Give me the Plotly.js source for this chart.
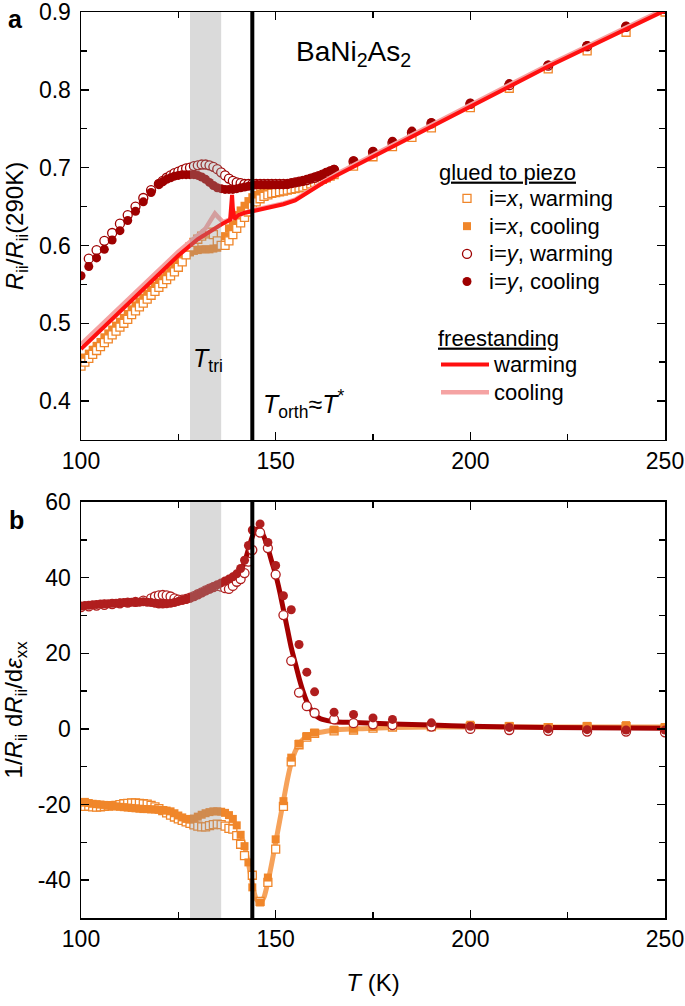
<!DOCTYPE html>
<html>
<head>
<meta charset="utf-8">
<script src="https://cdn.plot.ly/plotly-3.0.1.min.js"></script>
<style>html,body{margin:0;padding:0;background:#fff;}#chart{width:685px;height:1006px;}</style>
</head>
<body>
<div id="chart"></div>
<script>
// ---------- Panel a : R_ii / R_ii(290K) ----------
const Ta_x = [100,101,102,103,104,105,106,107,108,109,110,111,112,113,114,115,116,117,118,119,
  120,121,122,123,124,125,126,127,128,129,130,131,132,133,134,135,136,137,138,139,
  140,141,142,143,144,145,146,147,148,149,150,151,152,153,154,155,156,157,158,159,
  160,161,162,163,164,165,170,175,180,185,190,200,210,220,230,240,250];
// i=x, cooling (filled squares)
const Ra_xc = [0.451,0.456,0.461,0.466,0.471,0.476,0.482,0.487,0.492,0.497,0.502,0.507,0.512,0.518,0.523,0.528,0.533,0.538,0.543,0.548,
  0.553,0.558,0.563,0.568,0.573,0.578,0.583,0.588,0.591,0.593,0.594,0.595,0.595,0.595,0.596,0.597,0.600,0.612,0.622,0.631,
  0.639,0.645,0.651,0.657,0.662,0.665,0.667,0.668,0.669,0.670,0.671,0.672,0.673,0.674,0.675,0.676,0.677,0.678,0.680,0.682,
  0.684,0.686,0.688,0.690,0.692,0.694,0.705,0.717,0.730,0.742,0.754,0.778,0.803,0.827,0.851,0.876,0.900];
// i=x, warming (open squares)
const Ra_xw = [0.445,0.450,0.455,0.460,0.465,0.470,0.475,0.480,0.485,0.490,0.495,0.500,0.505,0.511,0.516,0.521,0.526,0.531,0.536,0.541,
  0.546,0.551,0.556,0.561,0.566,0.572,0.579,0.588,0.598,0.604,0.608,0.612,0.615,0.617,0.614,0.606,0.600,0.600,0.606,0.614,
  0.622,0.629,0.636,0.643,0.650,0.656,0.660,0.663,0.665,0.667,0.668,0.669,0.670,0.671,0.672,0.673,0.674,0.675,0.677,0.679,
  0.681,0.683,0.685,0.687,0.689,0.691,0.702,0.714,0.727,0.739,0.751,0.777,0.802,0.827,0.850,0.874,0.900];
// i=y, cooling (filled circles)
const Ta_yc = [100,102,104,106,108,110,112,114,116,118,
  120,121,122,123,124,125,126,127,128,129,130,131,132,133,134,135,136,137,138,139,
  140,141,142,143,144,145,146,147,148,149,150,151,152,153,154,155,156,157,158,159,
  160,161,162,163,164,165,170,175,180,185,190,200,210,220,230,240,250];
const Ra_yc = [0.561,0.573,0.584,0.595,0.607,0.619,0.632,0.644,0.656,0.668,
  0.679,0.682,0.685,0.687,0.689,0.690,0.691,0.691,0.691,0.691,0.690,0.688,0.685,0.681,0.677,0.674,0.673,0.672,0.672,0.672,
  0.673,0.674,0.675,0.676,0.677,0.678,0.678,0.678,0.678,0.678,0.678,0.678,0.678,0.679,0.680,0.681,0.682,0.683,0.685,0.686,
  0.688,0.689,0.691,0.694,0.696,0.698,0.709,0.721,0.734,0.747,0.758,0.783,0.808,0.832,0.857,0.882,0.905];
// i=y, warming (open circles)
const Ta_yw = [102,104,106,108,110,112,114,116,118,
  120,121,122,123,124,125,126,127,128,129,130,131,132,133,134,135,136,137,138,139,
  140,141,142,143,144,145,146,147,148,149,150,151,152,153,154,155,156,157,158,159,
  160,161,162,163,164,165,170,175,180,185,190,200,210,220,230,240,250];
const Ra_yw = [0.583,0.594,0.606,0.616,0.628,0.639,0.650,0.661,0.671,
  0.679,0.683,0.687,0.690,0.693,0.695,0.697,0.699,0.700,0.702,0.703,0.704,0.704,0.703,0.701,0.698,0.694,0.690,0.686,0.683,
  0.681,0.680,0.679,0.679,0.679,0.679,0.679,0.679,0.679,0.679,0.679,0.679,0.679,0.679,0.680,0.681,0.682,0.683,0.684,0.686,
  0.687,0.689,0.691,0.693,0.695,0.697,0.708,0.720,0.732,0.745,0.757,0.782,0.806,0.831,0.856,0.881,0.904];
// freestanding, warming (red line)
const Ta_fw = [100,105,110,115,120,125,130,133,136,138.3,138.6,138.8,139.0,139.4,140.4,142,144,148,152,155,158,162,166.5,180,200,220,250];
const Ra_fw = [0.467,0.491,0.515,0.539,0.563,0.587,0.608,0.618,0.627,0.633,0.650,0.665,0.648,0.634,0.639,0.642,0.644,0.648,0.653,0.658,0.668,0.680,0.692,0.727,0.779,0.830,0.902];
// freestanding, cooling (pink line)
const Ta_fc = [100,105,110,115,120,125,130,132,133.5,134.4,135.3,136.5,138,141,144,148,152,155,158,162,166.5,180,200,220,250];
const Ra_fc = [0.473,0.497,0.521,0.545,0.569,0.592,0.613,0.622,0.634,0.641,0.636,0.630,0.633,0.640,0.645,0.649,0.654,0.659,0.669,0.681,0.694,0.729,0.781,0.832,0.904];

// ---------- Panel b : 1/R dR/d eps ----------
const Tb_c = [100,101,102,103,104,105,106,107,108,109,110,111,112,113,114,115,116,117,118,119,
  120,121,122,123,124,125,126,127,128,129,130,131,132,133,134,135,136,137,138,139,
  140,141,142,143,144,146,148,150,152,154,156,158,160,165,170,175,180,190,200,210,220,230,240,250];
const Vb_yc = [32.5,32.6,32.7,32.8,32.9,33.0,33.1,33.1,33.2,33.2,33.3,33.4,33.4,33.5,33.5,33.5,33.6,33.5,33.4,33.2,
  33.0,33.0,33.1,33.2,33.4,33.7,34.0,34.3,34.6,35.0,35.5,36.0,36.5,37.0,37.6,38.1,38.6,39.1,39.6,40.2,
  41.0,42.4,44.6,48.5,52.6,54.2,49.3,43.2,35.2,31.5,22.3,15.0,9.8,4.4,3.8,2.9,2.5,1.6,0.7,0.4,0.0,-0.2,-0.3,-0.3];
const Vb_xc = [-19.5,-19.3,-19.6,-19.8,-19.9,-20.0,-20.1,-20.3,-20.4,-20.5,-20.6,-20.7,-20.8,-20.9,-21.0,-21.1,-21.2,-21.2,-21.3,-21.3,
  -21.4,-21.5,-21.6,-21.8,-22.3,-22.9,-23.4,-23.8,-24.0,-23.7,-23.2,-22.7,-22.3,-22.0,-21.8,-21.8,-21.9,-22.2,-22.8,-23.8,
  -25.5,-28.0,-31.0,-35.3,-41.9,-45.9,-39.3,-29.2,-19.1,-7.6,-3.9,-1.9,-1.0,-0.2,0.0,0.5,1.1,0.9,1.1,0.8,0.5,0.8,1.0,0.5];
const Tb_yw = [100,102,104,106,108,110,112,114,116,118,
  119,120,121,122,123,124,125,126,127,128,129,130,131,132,133,134,135,136,137,138,139,140,141,142,143,144,
  146,148,150,152,154,156,158,160,165,170,175,180,190,200,210,220,230,240,250];
const Vb_yw = [32.2,32.4,32.6,32.8,33.0,33.2,33.4,33.6,33.9,34.5,
  35.0,35.3,35.4,35.3,35.0,34.5,34.2,34.2,34.4,34.7,35.1,35.6,36.1,36.6,37.1,37.5,37.8,37.6,37.2,37.0,37.8,38.9,39.6,41.2,44.2,47.3,
  51.9,47.8,40.8,30.1,18.0,9.6,6.0,4.2,2.5,1.5,1.2,1.0,0.6,0.0,-0.3,-0.5,-0.7,-0.7,-0.9];
const Tb_xw = [100,101,102,103,104,105,106,107,108,109,110,111,112,113,114,115,116,117,118,119,
  120,121,122,123,124,125,126,127,128,129,130,131,132,133,134,135,136,137,138,139,140,141,142,
  144,146,148,150,152,154,156,158,160,165,170,175,180,190,200,210,220,230,240,250];
const Vb_xw = [-20.3,-20.5,-20.4,-20.6,-20.7,-20.6,-20.5,-20.4,-20.3,-20.2,-20.0,-19.8,-19.7,-19.6,-19.6,-19.7,-19.8,-19.9,-20.2,-20.6,
  -21.1,-21.6,-22.2,-22.8,-23.3,-23.8,-24.2,-24.6,-25.0,-25.4,-25.7,-25.9,-25.9,-25.6,-25.3,-25.2,-25.3,-25.7,-26.3,-26.5,-28.2,-30.5,-33.5,
  -38.7,-45.6,-40.6,-31.8,-20.5,-8.7,-4.2,-2.2,-1.2,-0.5,-0.3,0.2,0.5,0.6,0.6,0.5,0.3,0.5,0.6,0.2];
// guide lines
const Tb_yline = [140,141,142,143,144,145,146,147,148,149,150,151,152,153,154,155,156,157,158,159,160,161,162,165,170,180,190,200,220,250];
const Vb_yline = [40.8,42.0,44.0,47.5,50.8,52.8,52.8,50.8,47.8,44.2,40.8,36.5,31.5,26.5,21.5,17.5,13.5,10.0,7.2,5.2,3.8,3.0,2.5,1.9,1.7,1.3,1.0,0.7,0.4,0.2];
const Tb_xline = [141,142,143,144,145,146,147,148,149,150,151,152,153,154,155,156,157,158,160,163,166,170,180,200,250];
const Vb_xline = [-28.0,-31.0,-35.5,-41.0,-45.0,-46.0,-44.5,-40.5,-35.5,-30.0,-24.5,-19.0,-13.5,-9.0,-6.0,-4.0,-2.8,-2.0,-1.2,-0.6,-0.2,0.0,0.4,0.5,0.5];

// tick labels
const xTicks = [100,150,200,250];
const yaTicks = [0.4,0.5,0.6,0.7,0.8,0.9];
const yaTickText = ['0.4','0.5','0.6','0.7','0.8','0.9'];
const ybTicks = [-40,-20,0,20,40,60];
const ybTickText = ['-40','-20','0','20','40','60'];
const T_tri = [128,136];
const T_orth = 144;

// ---------- styles ----------
const FONT = 'Liberation Sans, Arial, sans-serif';
const ORANGE = '#f0862a', ORANGE_L = '#f6a25a';
const DRED_A = '#9e0000', DRED_B = '#b01e1e', DRED_L = '#a40000';
const RED = '#ff1010', PINK = '#f5a3a3';
const lg = s => '<span style="font-size:22px">' + s + '</span>';

const traces = [
  // panel a
  {x: Ta_x, y: Ra_xc, xaxis:'x', yaxis:'y', mode:'markers', name: lg('i=<i>x</i>, cooling'), legend:'legend', legendrank:2,
   marker:{symbol:'square', size:8, color:ORANGE, line:{width:0}}},
  {x: Ta_x, y: Ra_xw, xaxis:'x', yaxis:'y', mode:'markers', name: lg('i=<i>x</i>, warming'), legend:'legend', legendrank:1,
   marker:{symbol:'square', size:8, color:'white', line:{color:ORANGE, width:1.3}}},
  {x: Ta_yw, y: Ra_yw, xaxis:'x', yaxis:'y', mode:'markers', name: lg('i=<i>y</i>, warming'), legend:'legend', legendrank:3,
   marker:{symbol:'circle', size:9, color:'white', line:{color:DRED_A, width:1.3}}},
  {x: Ta_yc, y: Ra_yc, xaxis:'x', yaxis:'y', mode:'markers', name: lg('i=<i>y</i>, cooling'), legend:'legend', legendrank:4,
   marker:{symbol:'circle', size:9, color:DRED_A, line:{width:0}}},
  {x: Ta_fc, y: Ra_fc, xaxis:'x', yaxis:'y', mode:'lines', name: lg('cooling'), legend:'legend2', legendrank:2,
   line:{color:PINK, width:4.5}},
  {x: Ta_fw, y: Ra_fw, xaxis:'x', yaxis:'y', mode:'lines', name: lg('warming'), legend:'legend2', legendrank:1,
   line:{color:RED, width:4}},
  // panel b
  {x: Tb_xline, y: Vb_xline, xaxis:'x2', yaxis:'y2', mode:'lines', showlegend:false, line:{color:ORANGE_L, width:5, shape:'spline', smoothing:0.6}},
  {x: Tb_yline, y: Vb_yline, xaxis:'x2', yaxis:'y2', mode:'lines', showlegend:false, line:{color:DRED_L, width:5, shape:'spline', smoothing:0.6}},
  {x: Tb_xw, y: Vb_xw, xaxis:'x2', yaxis:'y2', mode:'markers', showlegend:false,
   marker:{symbol:'square', size:8, color:'white', line:{color:ORANGE, width:1.3}}},
  {x: Tb_c, y: Vb_xc, xaxis:'x2', yaxis:'y2', mode:'markers', showlegend:false,
   marker:{symbol:'square', size:8, color:ORANGE, line:{width:0}}},
  {x: Tb_yw, y: Vb_yw, xaxis:'x2', yaxis:'y2', mode:'markers', showlegend:false,
   marker:{symbol:'circle', size:9, color:'white', line:{color:DRED_B, width:1.3}}},
  {x: Tb_c, y: Vb_yc, xaxis:'x2', yaxis:'y2', mode:'markers', showlegend:false,
   marker:{symbol:'circle', size:9, color:DRED_B, line:{width:0}}}
];

const axBase = {
  showline:true, linecolor:'black', linewidth:1.5, mirror:'ticks',
  ticks:'inside', ticklen:8, tickwidth:1.5, tickcolor:'black',
  showgrid:false, zeroline:false, ticklabeloverflow:'allow',
  tickfont:{family:FONT, size:23, color:'black'}
};
const minorX = {ticks:'inside', ticklen:6, tickwidth:1.5, tickcolor:'black', dtick:25, showgrid:false};

const shapes = [];
[['x','y'],['x2','y2']].forEach(([xr,yr]) => {
  shapes.push({type:'rect', xref:xr, yref:yr+' domain', x0:T_tri[0], x1:T_tri[1], y0:0, y1:1,
    fillcolor:'rgb(150,150,150)', opacity:0.35, line:{width:0}, layer:'above'});
  shapes.push({type:'line', xref:xr, yref:yr+' domain', x0:T_orth, x1:T_orth, y0:0, y1:1,
    line:{color:'black', width:4}, layer:'above'});
});

const px = v => (v - 81) / 584;
const py = v => (918 - v) / 906;
const annFont = {family:FONT, size:25, color:'black'};

const layout = {
  width:685, height:1006,
  margin:{l:81, r:20, t:12, b:88},
  paper_bgcolor:'white', plot_bgcolor:'white',
  font:{family:FONT, color:'black', size:23},
  showlegend:true,
  xaxis: Object.assign({}, axBase, {domain:[0,1], anchor:'y', range:[100,250], tickvals:xTicks, minor:minorX}),
  yaxis: Object.assign({}, axBase, {domain:[0.5276,1], anchor:'x', range:[0.35,0.9], tickmode:'array', tickvals:yaTicks, ticktext:yaTickText, ticklabelstandoff:4,
    minor:{ticks:'inside', ticklen:6, tickwidth:1.5, tickcolor:'black', tick0:0, dtick:0.05, showgrid:false},
    title:{text:'<i>R</i><sub>ii</sub>/<i>R</i><sub>ii</sub>(290K)', font:{family:FONT, size:24}, standoff:8}}),
  xaxis2: Object.assign({}, axBase, {domain:[0,1], anchor:'y2', range:[100,250], tickvals:xTicks, minor:minorX,
    title:{text:'<i>T</i> (K)', font:{family:FONT, size:24}, standoff:23}}),
  yaxis2: Object.assign({}, axBase, {domain:[0,0.4592], anchor:'x2', range:[-50,60], tickmode:'array', tickvals:ybTicks, ticktext:ybTickText, ticklabelstandoff:4,
    minor:{ticks:'inside', ticklen:6, tickwidth:1.5, tickcolor:'black', tick0:0, dtick:10, showgrid:false},
    title:{text:'1/<i>R</i><sub>ii</sub> d<i>R</i><sub>ii</sub>/d<i>ε</i><sub>xx</sub>', font:{family:FONT, size:24}, standoff:8}}),
  legend:{x:px(437), xanchor:'left', y:py(151), yanchor:'top', bgcolor:'rgba(0,0,0,0)', borderwidth:0,
    font:{family:FONT, size:19, color:'black'}, title:{text:'<u>glued to piezo</u>', font:{family:FONT, size:22}},
    indentation:8, itemwidth:34, tracegroupgap:0},
  legend2:{x:px(436), xanchor:'left', y:py(317), yanchor:'top', bgcolor:'rgba(0,0,0,0)', borderwidth:0,
    font:{family:FONT, size:19, color:'black'}, title:{text:'<u>freestanding</u>', font:{family:FONT, size:22}},
    itemwidth:48, tracegroupgap:0},
  shapes: shapes,
  annotations:[
    {xref:'paper', yref:'paper', x:px(15), y:py(19), text:'<b>a</b>', showarrow:false, xanchor:'center', yanchor:'middle', font:{family:FONT, size:25, color:'black'}},
    {xref:'paper', yref:'paper', x:px(16), y:py(520), text:'<b>b</b>', showarrow:false, xanchor:'center', yanchor:'middle', font:{family:FONT, size:25, color:'black'}},
    {xref:'paper', yref:'paper', x:px(294), y:py(53), text:'BaNi<sub>2</sub>As<sub>2</sub>', showarrow:false, xanchor:'left', yanchor:'middle', font:{family:FONT, size:28, color:'black'}},
    {xref:'paper', yref:'paper', x:px(191), y:py(360), text:'<i>T</i><sub>tri</sub>', showarrow:false, xanchor:'left', yanchor:'middle', font:annFont},
    {xref:'paper', yref:'paper', x:px(261), y:py(404), text:'<i>T</i><sub>orth</sub>≈<i>T</i><sup>*</sup>', showarrow:false, xanchor:'left', yanchor:'middle', font:annFont}
  ]
};

Plotly.newPlot('chart', traces, layout, {displayModeBar:false, staticPlot:true});
</script>
</body>
</html>
